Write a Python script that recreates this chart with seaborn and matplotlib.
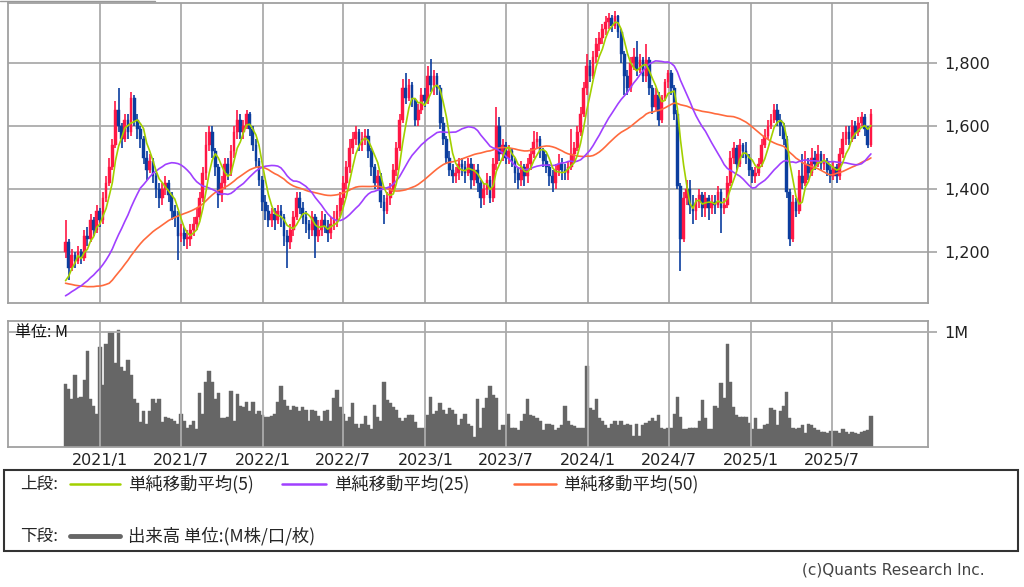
import matplotlib
matplotlib.use('Agg')
import matplotlib.pyplot as plt
from matplotlib.lines import Line2D
from matplotlib.patches import Rectangle
import seaborn as sns
import pandas as pd
import numpy as np

# 週足 終値 (2020/10 - 2025/9)
closes = [
    1230, 1150, 1190, 1170, 1200, 1180, 1250, 1240, 1300, 1270,
    1330, 1300, 1370, 1420, 1470, 1540, 1650, 1600, 1560, 1620,
    1580, 1690, 1620, 1590, 1560, 1500, 1460, 1490, 1440, 1400,
    1370, 1400, 1420, 1380, 1330, 1310, 1250, 1260, 1240, 1240,
    1270, 1290, 1310, 1370, 1450, 1540, 1580, 1520, 1470, 1380,
    1420, 1480, 1450, 1520, 1580, 1620, 1580, 1600, 1640, 1590,
    1540, 1490, 1430, 1360, 1330, 1300, 1320, 1300, 1330, 1310,
    1250, 1230, 1270, 1310, 1370, 1340, 1310, 1290, 1270, 1310,
    1250, 1270, 1300, 1280, 1260, 1290, 1300, 1330, 1370, 1420,
    1470, 1530, 1560, 1580, 1540, 1560, 1570, 1520, 1470, 1420,
    1440, 1360, 1330, 1370, 1400, 1460, 1530, 1620, 1720, 1690,
    1730, 1680, 1620, 1650, 1700, 1680, 1760, 1730, 1760, 1720,
    1610, 1560, 1500, 1460, 1440, 1450, 1480, 1470, 1450, 1480,
    1430, 1460, 1420, 1370, 1400, 1430, 1370, 1480, 1600, 1510,
    1540, 1500, 1520, 1490, 1450, 1430, 1470, 1440, 1480, 1510,
    1550, 1560, 1520, 1490, 1470, 1440, 1420, 1460, 1480, 1460,
    1450, 1470, 1510, 1530, 1580, 1640, 1720, 1790, 1760, 1820,
    1860, 1880, 1910, 1930, 1945, 1920, 1950, 1900, 1830, 1760,
    1720, 1800, 1820, 1780, 1810, 1760, 1810, 1720, 1660, 1700,
    1620, 1690, 1740, 1770, 1720, 1640, 1410, 1240, 1370, 1400,
    1350, 1330, 1360, 1380, 1340, 1370, 1340, 1360, 1350, 1390,
    1340, 1350, 1420, 1500, 1530, 1480, 1540, 1520, 1500, 1460,
    1440, 1450, 1480, 1540, 1570, 1600, 1620, 1650, 1620, 1600,
    1560, 1390, 1240, 1360, 1330, 1440, 1420, 1480, 1450, 1500,
    1480, 1510, 1480, 1490, 1460, 1440, 1470, 1440, 1510, 1560,
    1580, 1560, 1600, 1580, 1610, 1630, 1590, 1540, 1640,
]
highs = [
    1300, 1240, 1210, 1200, 1220, 1210, 1270, 1280, 1320, 1310,
    1350, 1340, 1390, 1440, 1500, 1560, 1680, 1720, 1610, 1640,
    1640, 1710, 1700, 1640, 1600, 1570, 1520, 1510, 1500, 1450,
    1420, 1420, 1440, 1430, 1390, 1350, 1330, 1290, 1280, 1270,
    1290, 1310, 1340, 1390, 1470, 1580, 1600, 1600, 1530, 1480,
    1440, 1500, 1500, 1540, 1600, 1650, 1640, 1620, 1650, 1645,
    1600, 1560, 1500, 1440, 1380, 1350, 1340, 1340, 1350, 1350,
    1320, 1270, 1290, 1330, 1390, 1390, 1360, 1330, 1300, 1330,
    1320, 1300, 1330, 1320, 1300, 1310, 1330, 1350, 1390, 1440,
    1490, 1560, 1580, 1600, 1590, 1580, 1590, 1590, 1530, 1480,
    1460, 1450, 1380, 1390, 1420, 1480, 1550, 1640, 1750, 1770,
    1750, 1740, 1690, 1670, 1720, 1720, 1790, 1815, 1780, 1770,
    1730, 1630, 1570, 1520, 1480, 1470, 1500, 1500, 1490, 1500,
    1500, 1480, 1480, 1430, 1420, 1450, 1440, 1500, 1662, 1630,
    1560, 1550, 1540, 1530, 1500, 1470, 1490, 1480, 1500, 1530,
    1585, 1580, 1570, 1530, 1510, 1480, 1460, 1480, 1510, 1500,
    1480, 1490, 1590, 1550, 1600, 1660, 1740, 1830, 1810, 1840,
    1880, 1900, 1925, 1950, 1960, 1955, 1965, 1955, 1910, 1840,
    1780, 1820, 1850, 1870, 1830, 1820, 1860, 1820, 1730, 1720,
    1710, 1700, 1750, 1780, 1780, 1730, 1650, 1420, 1390, 1430,
    1430, 1380, 1370, 1400, 1390, 1390, 1380, 1380, 1380, 1410,
    1400, 1370, 1440, 1520, 1550, 1540, 1560, 1545, 1550, 1510,
    1470, 1470, 1500, 1560, 1590, 1620, 1640, 1670, 1670, 1640,
    1610, 1570, 1400, 1380, 1370, 1460, 1510, 1520, 1500, 1530,
    1520, 1540, 1520, 1510, 1500, 1480, 1490, 1480, 1530, 1580,
    1600, 1600, 1620, 1615, 1630, 1645, 1640, 1600, 1655,
]
lows = [
    1180, 1110, 1140, 1150, 1160, 1160, 1170, 1220, 1230, 1250,
    1260, 1280, 1290, 1360, 1410, 1460, 1530, 1580, 1530, 1550,
    1560, 1570, 1600, 1560, 1530, 1480, 1430, 1450, 1420, 1370,
    1340, 1350, 1380, 1360, 1300, 1280, 1175, 1230, 1220, 1210,
    1220, 1250, 1270, 1300, 1360, 1430, 1520, 1500, 1440, 1340,
    1360, 1400, 1430, 1440, 1500, 1560, 1560, 1560, 1590, 1570,
    1520, 1470, 1410, 1330, 1300, 1280, 1280, 1270, 1290, 1280,
    1220, 1150, 1210, 1250, 1300, 1320, 1290, 1260, 1240, 1250,
    1180, 1230, 1250, 1260, 1230, 1240, 1270, 1280, 1310, 1350,
    1400, 1450, 1510, 1540, 1520, 1520, 1540, 1500, 1440, 1400,
    1400, 1340, 1290, 1320, 1350, 1390, 1440, 1520, 1610, 1670,
    1680, 1660, 1600, 1600, 1640, 1660, 1670, 1710, 1700, 1700,
    1590, 1540, 1480, 1440, 1420, 1420, 1430, 1440, 1420, 1440,
    1400, 1410, 1390, 1340, 1350, 1380, 1355, 1360, 1460, 1490,
    1490, 1480, 1480, 1470, 1420, 1400, 1410, 1410, 1420, 1460,
    1500, 1530, 1500, 1470, 1450, 1410, 1390, 1400, 1440, 1430,
    1430, 1430, 1460, 1490, 1520, 1570, 1630, 1700, 1740, 1750,
    1800, 1840, 1860, 1890, 1910, 1900, 1910, 1880, 1800, 1700,
    1700, 1710, 1780, 1760, 1770, 1740, 1740, 1700, 1640, 1650,
    1600, 1610, 1680, 1720, 1700, 1620, 1400, 1140, 1230, 1350,
    1320, 1290, 1300, 1340, 1310, 1310, 1300, 1320, 1320, 1340,
    1260, 1320, 1340, 1410, 1480, 1460, 1470, 1500, 1480, 1440,
    1420, 1420, 1440, 1470, 1530, 1560, 1590, 1610, 1600, 1570,
    1540, 1370, 1220, 1230, 1310, 1320, 1400, 1410, 1430, 1440,
    1460, 1470, 1460, 1460, 1440, 1420, 1430, 1420, 1430, 1500,
    1540, 1540, 1550, 1560, 1570, 1600, 1570, 1530, 1535,
]
first_open = 1200
# 表示範囲より前の終値 (移動平均の計算用)
closes_prev = [
    1260, 1280, 1290, 1270, 1250, 1280, 1300, 1290, 1270, 1260,
    1280, 1270, 1260, 1280, 1050, 1010, 990, 960, 950, 940,
    950, 960, 950, 950, 950, 1000, 1010, 1020, 1030, 1040,
    1040, 1050, 1050, 1060, 1060, 1050, 1050, 1060, 1060, 1070,
    1060, 1050, 1060, 1070, 1070, 1080, 1070, 1080, 1080,
]
# 出来高 (M)
volume = [
    0.55, 0.51, 0.42, 0.63, 0.43, 0.44, 0.58, 0.84, 0.42, 0.36,
    0.29, 0.87, 0.54, 0.90, 1.00, 1.00, 0.73, 1.02, 0.70, 0.66,
    0.76, 0.63, 0.42, 0.38, 0.22, 0.31, 0.20, 0.31, 0.42, 0.38,
    0.42, 0.22, 0.26, 0.25, 0.24, 0.23, 0.20, 0.29, 0.23, 0.17,
    0.19, 0.23, 0.16, 0.47, 0.29, 0.57, 0.66, 0.57, 0.42, 0.47,
    0.25, 0.25, 0.26, 0.49, 0.23, 0.46, 0.36, 0.35, 0.39, 0.31,
    0.39, 0.29, 0.31, 0.28, 0.26, 0.26, 0.27, 0.29, 0.39, 0.53,
    0.41, 0.36, 0.32, 0.36, 0.35, 0.31, 0.35, 0.32, 0.23, 0.32,
    0.31, 0.27, 0.23, 0.31, 0.32, 0.23, 0.43, 0.50, 0.35, 0.29,
    0.23, 0.26, 0.38, 0.20, 0.17, 0.20, 0.27, 0.19, 0.16, 0.37,
    0.26, 0.23, 0.57, 0.41, 0.38, 0.35, 0.32, 0.25, 0.23, 0.25,
    0.28, 0.28, 0.22, 0.17, 0.17, 0.17, 0.28, 0.44, 0.29, 0.31,
    0.38, 0.32, 0.29, 0.34, 0.32, 0.29, 0.19, 0.24, 0.29, 0.20,
    0.18, 0.09, 0.42, 0.17, 0.34, 0.43, 0.53, 0.45, 0.43,
    0.15, 0.19, 0.19, 0.29, 0.17, 0.17, 0.15, 0.23, 0.29, 0.42,
    0.28, 0.27, 0.25, 0.23, 0.15, 0.20, 0.20, 0.19, 0.15, 0.17,
    0.19, 0.36, 0.23, 0.19, 0.18, 0.17, 0.17, 0.17, 0.71, 0.34,
    0.32, 0.42, 0.25, 0.23, 0.19, 0.17, 0.20, 0.23, 0.19, 0.23,
    0.19, 0.20, 0.19, 0.10, 0.20, 0.10, 0.19, 0.21, 0.23, 0.25,
    0.23, 0.28, 0.17, 0.16, 0.17, 0.17, 0.29, 0.44, 0.26, 0.16,
    0.16, 0.17, 0.17, 0.17, 0.23, 0.41, 0.25, 0.16, 0.16, 0.36,
    0.34, 0.56, 0.43, 0.90, 0.57, 0.35, 0.28, 0.26, 0.26, 0.26,
    0.21, 0.16, 0.25, 0.16, 0.16, 0.19, 0.20, 0.34, 0.32, 0.19,
    0.31, 0.36, 0.48, 0.25, 0.17, 0.16, 0.17, 0.19, 0.12, 0.20,
    0.19, 0.17, 0.15, 0.13, 0.13, 0.12, 0.14, 0.14, 0.14, 0.12,
    0.16, 0.13, 0.11, 0.13, 0.12, 0.11, 0.13, 0.14, 0.15, 0.27,
]
assert len(closes) == len(highs) == len(lows) == len(volume)

grid_dates = ['2021-01-01', '2021-07-01', '2022-01-01', '2022-07-01', '2023-01-01',
              '2023-07-01', '2024-01-01', '2024-07-01', '2025-01-01', '2025-07-01']
grid_labels = ['2021/1', '2021/7', '2022/1', '2022/7', '2023/1',
               '2023/7', '2024/1', '2024/7', '2025/1', '2025/7']
price_ticks = [1200, 1400, 1600, 1800]
price_labels = ['1,200', '1,400', '1,600', '1,800']

df = pd.DataFrame({
    'date': pd.date_range('2020-10-16', periods=len(closes), freq='W-FRI'),
    'open': [first_open] + closes[:-1],
    'high': highs, 'low': lows, 'close': closes, 'volume': volume,
})
full = pd.Series(closes_prev + closes, dtype=float)
n0 = len(closes_prev)
df['ma5'] = full.rolling(5).mean().iloc[n0:].values
df['ma25'] = full.rolling(25).mean().iloc[n0:].values
df['ma50'] = full.rolling(50).mean().iloc[n0:].values

UP, DOWN = '#ff1744', '#0b3d9e'
GRID = '#ababab'

sns.set_style('white')
plt.rcParams['font.family'] = ['DejaVu Sans', 'Noto Sans CJK JP']
JP = ['Noto Sans CJK JP', 'DejaVu Sans']

W, H = 1024, 587
fig = plt.figure(figsize=(W / 100, H / 100), dpi=100)
def fx(px): return px / W
def fy(py): return 1 - py / H

ax = fig.add_axes([fx(8), fy(303), fx(928) - fx(8), fy(3) - fy(303)])
ax2 = fig.add_axes([fx(8), fy(447), fx(928) - fx(8), fy(321) - fy(447)])

# ローソク足
up = df['close'] >= df['open']
colors = np.where(up, UP, DOWN)
body = np.maximum((df['close'] - df['open']).abs(), 6)
ax.vlines(df['date'], df['low'], df['high'], colors=colors, lw=1.2, zorder=2)
ax.bar(df['date'], body, bottom=np.minimum(df['open'], df['close']), width=6.2,
       color=colors, edgecolor=colors, linewidth=0.3, zorder=2)

# 移動平均
sns.lineplot(data=df, x='date', y='ma50', ax=ax, color='#ff6a3d', lw=1.2, zorder=3)
sns.lineplot(data=df, x='date', y='ma25', ax=ax, color='#a040ff', lw=1.2, zorder=3)
sns.lineplot(data=df, x='date', y='ma5', ax=ax, color='#a2d000', lw=1.2, zorder=4)

# 出来高
ax2.bar(df['date'], df['volume'], width=7.6, color='#666666', edgecolor='#666666',
        linewidth=0.3, zorder=1)

xmin, xmax = pd.Timestamp('2020-06-09'), pd.Timestamp('2026-02-01')
gd = pd.to_datetime(grid_dates)
for a in (ax, ax2):
    a.set_xlim(xmin, xmax)
    a.set_xticks(gd)
    a.grid(True, color=GRID, lw=1.3)
    a.set_xlabel('')
    a.set_ylabel('')
    a.yaxis.tick_right()
    for s in a.spines.values():
        s.set_color('#a0a0a0')
        s.set_linewidth(1.3)
ax.set_axisbelow(True)
ax2.set_axisbelow(False)

ax.set_ylim(1037, 1992)
ax.set_yticks(price_ticks, price_labels)
ax.tick_params(axis='x', length=0, labelbottom=False)
ax.tick_params(axis='y', length=6.5, width=1.3, color=GRID, pad=5, labelsize=11.5,
               labelcolor='#222222')

ax2.set_ylim(0, 1.0985)
ax2.set_yticks([1.0], ['1M'])
ax2.set_xticks(gd, grid_labels)
ax2.tick_params(axis='x', length=0, pad=4, labelsize=11.5, labelcolor='#222222')
ax2.tick_params(axis='y', length=6.5, width=1.3, color=GRID, pad=5, labelsize=11.5,
                labelcolor='#222222')
fig.text(fx(15), fy(333), '単位: M', fontsize=11.5, family=JP, va='center', ha='left',
         color='#111111')

# 凡例
fig.add_artist(Rectangle((fx(4), fy(551)), fx(1018) - fx(4), fy(470) - fy(551),
                         transform=fig.transFigure, fill=False, ec='#333333', lw=1.5))
fig.text(fx(20), fy(484), '上段:', fontsize=12, family=JP, va='center')
fig.text(fx(20), fy(536), '下段:', fontsize=12, family=JP, va='center')
legend_items = [
    (70, 120, 128, '#a2d000', '単純移動平均(5)'),
    (282, 326, 334, '#a040ff', '単純移動平均(25)'),
    (514, 556, 563, '#ff6a3d', '単純移動平均(50)'),
]
for x0, x1, xt, c, label in legend_items:
    fig.add_artist(Line2D([fx(x0), fx(x1)], [fy(484)] * 2, color=c, lw=1.8))
    fig.text(fx(xt), fy(484), label, fontsize=12.5, family=JP, va='center')
fig.add_artist(Line2D([fx(70), fx(120)], [fy(536)] * 2, color='#666666', lw=3.5))
fig.text(fx(128), fy(536), '出来高 単位:(M株/口/枚)', fontsize=12.5, family=JP, va='center')

fig.text(fx(985), fy(570), '(c)Quants Research Inc.', fontsize=11, ha='right',
         va='center', color='#444444')
fig.add_artist(Line2D([0, fx(155)], [fy(0.6)] * 2, color='#999999', lw=1.0))

fig.savefig('out.png', dpi=100)
